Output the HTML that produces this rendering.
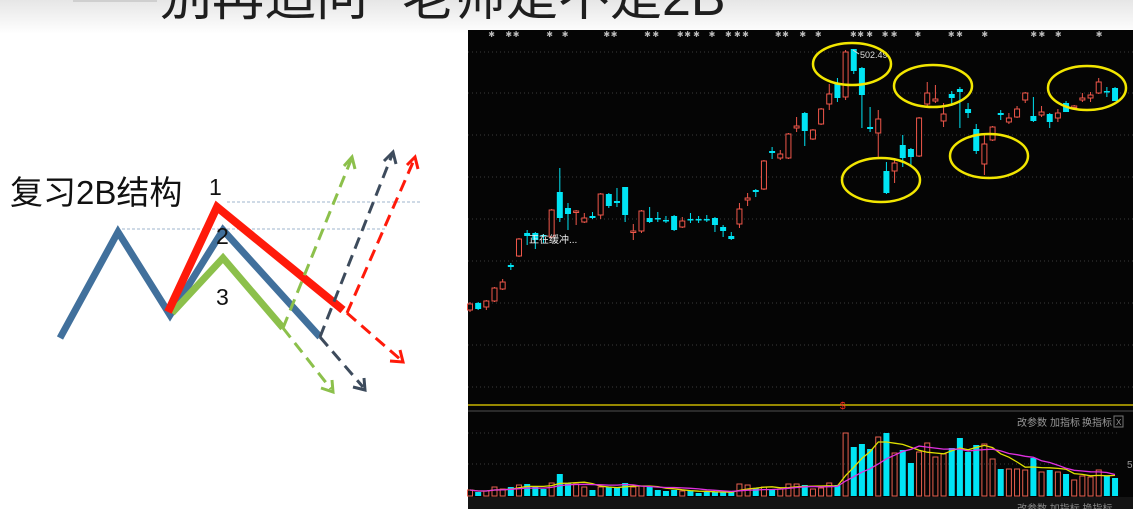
<!DOCTYPE html>
<html><head><meta charset="utf-8">
<style>
html,body{margin:0;padding:0;background:#fff;}
body{width:1133px;height:509px;position:relative;overflow:hidden;font-family:"Liberation Sans","Noto Sans CJK SC",sans-serif;}
svg{position:absolute;left:0;top:0;}
</style></head>
<body>
<svg id="root" width="1133" height="509" viewBox="0 0 1133 509">
  <defs>
    <linearGradient id="topg" x1="0" y1="0" x2="0" y2="1">
      <stop offset="0" stop-color="#e6e6e6"/><stop offset="1" stop-color="#ffffff"/>
    </linearGradient>
  </defs>
  <rect x="0" y="0" width="1133" height="34" fill="url(#topg)"/>
  <rect x="73" y="0" width="84" height="2" fill="#cfcfcf"/>
  <text x="160" y="15" font-size="52" fill="#1e1e1e" font-family="Liberation Sans, Noto Sans CJK SC, sans-serif">别再追问</text>
  <text x="402" y="15" font-size="52" fill="#1e1e1e" font-family="Liberation Sans, Noto Sans CJK SC, sans-serif">老师是不是2B</text>

  <g>
    <text x="10" y="204" font-size="33" fill="#111" font-family="Liberation Sans, Noto Sans CJK SC, sans-serif">复习2B结构</text>
    <line x1="227" y1="202" x2="420" y2="202" stroke="#9fb4cc" stroke-width="1" stroke-dasharray="3,2"/>
    <line x1="117" y1="229" x2="387" y2="229" stroke="#9fb4cc" stroke-width="1" stroke-dasharray="3,2"/>
    <polyline points="60,338 118,232 170,315 223,230 320,337" fill="none" stroke="#41709c" stroke-width="7"/>
    <polyline points="172,313 223,258 283,328" fill="none" stroke="#8cc04b" stroke-width="7"/>
    <polyline points="168,312 217,207 343,310" fill="none" stroke="#ff1a0a" stroke-width="8"/>
    <g fill="none" stroke-width="3" stroke-dasharray="12,7">
      <line x1="283" y1="328" x2="351" y2="160" stroke="#8cc04b"/>
      <line x1="283" y1="328" x2="331" y2="389" stroke="#8cc04b"/>
      <line x1="320" y1="337" x2="392" y2="155" stroke="#3d4b5c"/>
      <line x1="320" y1="337" x2="363" y2="387" stroke="#3d4b5c"/>
      <line x1="347" y1="313" x2="414" y2="160" stroke="#ff1a0a"/>
      <line x1="347" y1="313" x2="401" y2="360" stroke="#ff1a0a"/>
    </g>
    <g fill="none" stroke-width="3">
      <polyline points="344,166 352,157 355,169" stroke="#8cc04b"/>
      <polyline points="321,388 333,392 332,380" stroke="#8cc04b"/>
      <polyline points="384,161 393,152 396,164" stroke="#3d4b5c"/>
      <polyline points="353,387 365,390 364,378" stroke="#3d4b5c"/>
      <polyline points="407,165 415,157 418,169" stroke="#ff1a0a"/>
      <polyline points="390,361 403,362 400,350" stroke="#ff1a0a"/>
    </g>
    <text x="209" y="195" font-size="23" fill="#111">1</text>
    <text x="216" y="244" font-size="23" fill="#111">2</text>
    <text x="216" y="305" font-size="23" fill="#111">3</text>
  </g>

  <rect x="468" y="30" width="665" height="479" fill="#050505"/>
  <g id="grid"></g>
  <g id="marks"></g>
  <g id="candles"></g>
  <text x="860" y="58" font-size="9" fill="#ddd">502.49</text>
  <line x1="853" y1="50" x2="859" y2="54" stroke="#ddd" stroke-width="1"/>
  <text x="529" y="243" font-size="10" fill="#eee" font-family="Liberation Sans, Noto Sans CJK SC, sans-serif">正在缓冲...</text>
  <g fill="none" stroke="#f2e600" stroke-width="2.5">
    <ellipse cx="852" cy="64" rx="39" ry="21"/>
    <ellipse cx="933" cy="86" rx="39" ry="21"/>
    <ellipse cx="881" cy="180" rx="39" ry="22"/>
    <ellipse cx="989" cy="156" rx="39" ry="22"/>
    <ellipse cx="1087" cy="88" rx="39" ry="22"/>
  </g>
  <line x1="468" y1="405" x2="1133" y2="405" stroke="#c8b400" stroke-width="1.5"/>
  <text x="840" y="409" font-size="10" fill="#ff3020">$</text>
  <line x1="468" y1="411" x2="1133" y2="411" stroke="#2a2a2a" stroke-width="2"/>
  <text x="1017" y="426" font-size="10" fill="#999" font-family="Liberation Sans, Noto Sans CJK SC, sans-serif">改参数</text>
  <text x="1050" y="426" font-size="10" fill="#999" font-family="Liberation Sans, Noto Sans CJK SC, sans-serif">加指标</text>
  <text x="1082" y="426" font-size="10" fill="#999" font-family="Liberation Sans, Noto Sans CJK SC, sans-serif">换指标</text>
  <rect x="1114" y="416" width="9" height="11" fill="none" stroke="#777"/>
  <text x="1116" y="425" font-size="8" fill="#999">X</text>
  <line x1="468" y1="433" x2="1120" y2="433" stroke="#3a3a3a" stroke-dasharray="1,3"/>
  <line x1="468" y1="464" x2="1120" y2="464" stroke="#3a3a3a" stroke-dasharray="1,3"/>
  <text x="1127" y="468" font-size="10" fill="#999">5</text>
  <g id="vol"></g>
  <g id="ma"></g>
  <rect x="468" y="497" width="665" height="12" fill="#141414"/>
  <text x="1017" y="512" font-size="10" fill="#888" font-family="Liberation Sans, Noto Sans CJK SC, sans-serif">改参数 加指标 换指标</text>
</svg>
<script>
const openP  = [90,97,93,99,111,135,144,167,167,165,163,208,192,188,178,184,185,206,199,213,168,169,182,182,180,184,173,181,181,181,182,173,164,176,200,210,211,249,242,242,272,287,261,276,296,316,303,351,332,273,267,229,229,255,251,244,296,299,279,306,311,291,271,236,260,287,278,283,300,284,285,286,282,297,293,300,302,307,309,312];
const closeP = [96,91,99,112,118,133,161,164,160,164,190,182,186,189,182,182,206,194,197,185,169,189,178,181,179,170,179,180,180,180,175,169,161,191,202,208,239,247,246,266,274,269,270,291,306,302,348,329,305,271,281,207,237,242,243,282,307,301,286,302,308,287,249,256,273,285,282,291,307,279,288,278,287,288,294,302,305,318,308,299];
const highP  = [98,98,100,113,121,137,162,170,168,166,191,232,197,190,187,188,207,207,212,213,176,190,193,188,184,185,183,187,184,185,183,175,168,197,207,211,240,253,250,267,283,288,271,292,316,322,350,351,333,293,290,238,242,265,252,283,318,315,297,309,313,297,276,267,274,290,287,294,308,303,294,287,291,299,295,307,308,322,313,313];
const lowP   = [88,90,90,98,110,130,143,155,151,157,162,178,170,175,177,181,181,192,193,178,160,167,177,178,177,169,172,177,177,178,168,163,160,172,194,203,210,241,240,241,268,254,260,275,290,298,300,326,272,268,242,206,217,233,235,243,292,297,273,294,272,282,246,225,259,280,276,282,297,278,283,272,278,288,292,298,298,306,303,299];
const volume = [6,4,5,9,7,9,11,12,9,7,13,22,13,12,9,6,9,9,9,13,9,10,9,6,5,6,5,5,3,4,4,4,4,12,11,8,9,6,7,12,12,11,7,8,13,11,63,49,52,47,59,63,43,46,33,44,53,39,42,48,58,44,51,52,37,27,27,27,26,38,24,26,24,22,16,20,19,26,20,18];
const gridLevels = [348,307,265,223,181,139,97,55,13];
const markerIdx = [2.6,4.7,5.6,9.7,11.6,16.7,17.6,21.7,22.7,25.7,26.6,27.7,29.6,31.6,32.7,33.7,37.7,38.6,40.7,42.6,46.9,47.8,48.9,50.8,51.9,54.8,58.9,59.9,63,69,70,72,77];

const NS = "http://www.w3.org/2000/svg";
const xS = i => 470 + i * 8.165;
const yS = p => 400 - p;
const yV = v => 496 - v;
function mk(tag, attrs, parent) {
  const el = document.createElementNS(NS, tag);
  for (const k in attrs) el.setAttribute(k, attrs[k]);
  parent.appendChild(el);
  return el;
}
const grid = document.getElementById('grid');
gridLevels.forEach(g => {
  const l = mk('line', {x1: 468, x2: 1133, y1: yS(g), y2: yS(g), stroke: '#3a3a3a', 'stroke-dasharray': '1,3'}, grid);
  
  
});
const marks = document.getElementById('marks');
markerIdx.forEach(m => {
  const t = mk('text', {x: xS(m) - 3, y: 37, 'font-size': 8, fill: '#bbb'}, marks);
  t.textContent = '✱';
  
  
});
const cg = document.getElementById('candles');
openP.forEach((o, i) => {
  const c = closeP[i], up = c >= o;
  const col = up ? '#f0574a' : '#00e4f4';
  const x = xS(i);
  const top = yS(Math.max(o, c)), bot = yS(Math.min(o, c));
  const g = mk('g', {}, cg);
  
  
  mk('line', {x1: x, x2: x, y1: yS(highP[i]), y2: top, stroke: col, 'stroke-width': 1}, g);
  mk('line', {x1: x, x2: x, y1: bot, y2: yS(lowP[i]), stroke: col, 'stroke-width': 1}, g);
  const h = Math.max(bot - top, 1.5);
  if (up) mk('rect', {x: x - 2.5, y: top, width: 5, height: h, fill: '#050505', stroke: col, 'stroke-width': 1}, g);
  else mk('rect', {x: x - 3, y: top, width: 6, height: h, fill: col}, g);
});
const vg = document.getElementById('vol');
volume.forEach((v, i) => {
  const up = closeP[i] >= openP[i];
  const x = xS(i);
  let r;
  if (up) r = mk('rect', {x: x - 2.5, y: yV(v), width: 5, height: v, fill: 'none', stroke: '#e8604f', 'stroke-width': 1}, vg);
  else r = mk('rect', {x: x - 3, y: yV(v), width: 6, height: v, fill: '#00e4f4'}, vg);
  
  
});
function ma(n) {
  return volume.map((v, i) => {
    const s = volume.slice(Math.max(0, i - n + 1), i + 1);
    return s.reduce((a, b) => a + b, 0) / s.length;
  });
}
const mg = document.getElementById('ma');
[[5, '#e0e000', 'volume-ma5'], [10, '#e030e0', 'volume-ma10']].forEach(([n, col, name]) => {
  const pts = ma(n).map((v, i) => xS(i).toFixed(1) + ',' + yV(v).toFixed(1)).join(' ');
  const pl = mk('polyline', {points: pts, fill: 'none', stroke: col, 'stroke-width': 1.3}, mg);
  
  
});
</script>
</body></html>
